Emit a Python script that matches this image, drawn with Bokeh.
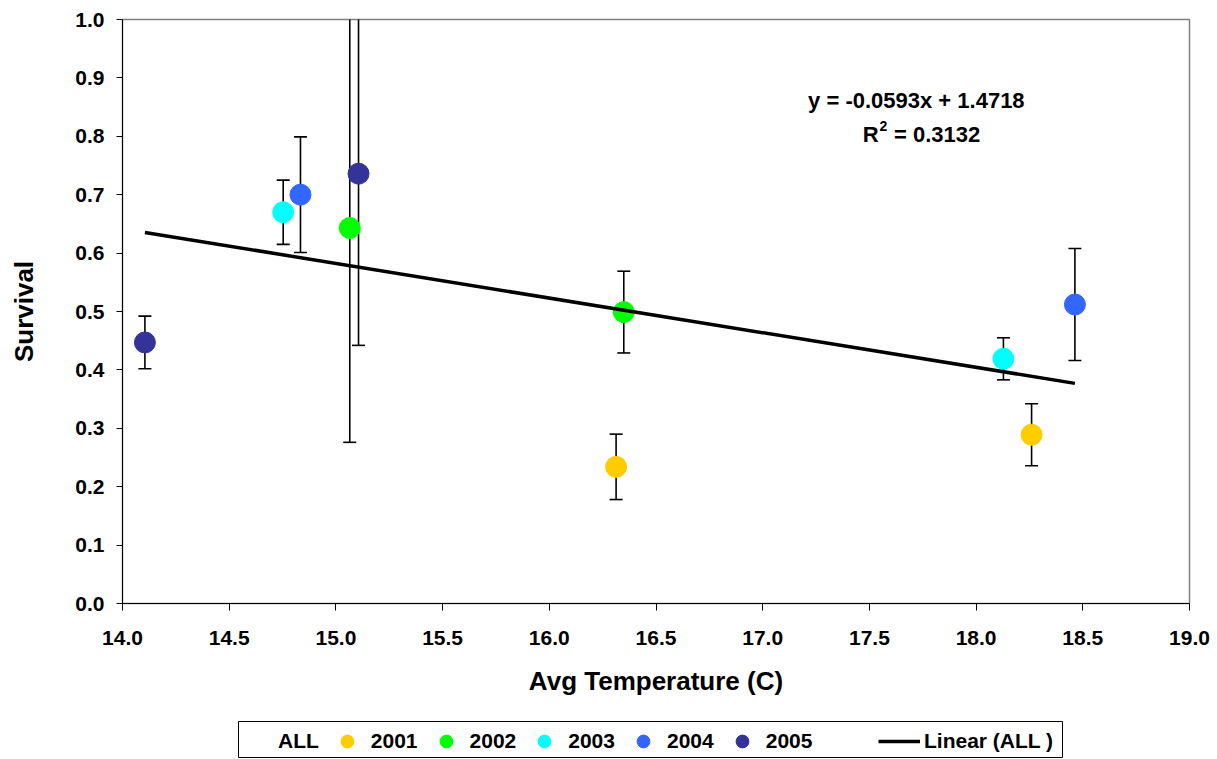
from bokeh.plotting import figure
from bokeh.layouts import column
from bokeh.models import (ColumnDataSource, Range1d, FixedTicker, NumeralTickFormatter,
                          Whisker, TeeHead, Legend, LegendItem, Label, BoxAnnotation)
from bokeh.embed import file_html
from bokeh.resources import INLINE

# ---------------- data ----------------
years = ["2001", "2002", "2003", "2004", "2005"]
colors = ["#FFCC00", "#00FF00", "#00FFFF", "#3366FF", "#333399"]

temp_2001 = [16.313, 18.260]
surv_2001 = [0.234, 0.289]
err_2001 = [0.056, 0.053]

temp_2002 = [15.065, 16.349]
surv_2002 = [0.643, 0.499]
err_2002 = [0.367, 0.070]

temp_2003 = [14.753, 18.128]
surv_2003 = [0.670, 0.419]
err_2003 = [0.055, 0.036]

temp_2004 = [14.834, 18.463]
surv_2004 = [0.700, 0.512]
err_2004 = [0.099, 0.096]

temp_2005 = [14.105, 15.106]
surv_2005 = [0.447, 0.736]
err_2005 = [0.045, 0.294]

trend_slope = -0.0593
trend_intercept = 1.4718
equation_text = "y = -0.0593x + 1.4718"
r2_label = "R"
r2_sup = "2"
r2_value = "= 0.3132"

x_ticks = [14.0, 14.5, 15.0, 15.5, 16.0, 16.5, 17.0, 17.5, 18.0, 18.5, 19.0]
y_ticks = [0.0, 0.1, 0.2, 0.3, 0.4, 0.5, 0.6, 0.7, 0.8, 0.9, 1.0]

temps = [temp_2001, temp_2002, temp_2003, temp_2004, temp_2005]
survs = [surv_2001, surv_2002, surv_2003, surv_2004, surv_2005]
errs = [err_2001, err_2002, err_2003, err_2004, err_2005]

FONT = "Liberation Sans"

p = figure(width=1215, height=716, output_backend="svg", toolbar_location=None,
           x_range=Range1d(14, 19), y_range=Range1d(0, 1),
           min_border_left=122, min_border_right=26, min_border_top=19,
           min_border_bottom=113)
p.xgrid.visible = False
p.ygrid.visible = False
p.outline_line_color = "#808080"
p.outline_line_width = 1.5
p.background_fill_color = "white"
p.border_fill_color = "white"

for ax in (p.xaxis[0], p.yaxis[0]):
    ax.axis_line_color = "black"
    ax.axis_line_width = 1
    ax.major_tick_line_color = "black"
    ax.minor_tick_line_color = None
    ax.major_tick_in = 0
    ax.major_label_text_font = FONT
    ax.major_label_text_font_style = "bold"
    ax.major_label_text_font_size = "21px"
    ax.major_label_text_color = "black"
    ax.axis_label_text_font = FONT
    ax.axis_label_text_font_style = "bold"
    ax.axis_label_text_font_size = "26px"
    ax.axis_label_text_color = "black"
    ax.formatter = NumeralTickFormatter(format="0.0")

p.xaxis.ticker = FixedTicker(ticks=x_ticks)
p.yaxis.ticker = FixedTicker(ticks=y_ticks)
p.xaxis.axis_label = "Avg Temperature (C)"
p.yaxis.axis_label = "Survival"
p.xaxis.major_tick_out = 7
p.yaxis.major_tick_out = 6
p.xaxis.major_label_standoff = 20
p.yaxis.major_label_standoff = 12
p.xaxis.axis_label_standoff = 18
p.yaxis.axis_label_standoff = 33

# ALL series (invisible markers; error bars)
all_x = sum(temps, [])
all_y = sum(survs, [])
all_e = sum(errs, [])
all_src = ColumnDataSource(dict(x=all_x, y=all_y,
                                lo=[v - e for v, e in zip(all_y, all_e)],
                                hi=[v + e for v, e in zip(all_y, all_e)]))
p.scatter("x", "y", source=all_src, size=10, fill_alpha=0, line_alpha=0)

wh = Whisker(source=all_src, base="x", upper="hi", lower="lo",
             line_color="black", line_width=1.6,
             upper_head=TeeHead(size=13, line_color="black", line_width=1.6),
             lower_head=TeeHead(size=13, line_color="black", line_width=1.6))
p.add_layout(wh)

year_srcs = []
for yr, c, tx, sv in zip(years, colors, temps, survs):
    src = ColumnDataSource(dict(x=tx, y=sv))
    year_srcs.append(src)
    p.scatter("x", "y", source=src, size=21, fill_color=c, line_color=c)

tx0, tx1 = min(all_x), max(all_x)
line_src = ColumnDataSource(dict(x=[tx0, tx1],
                                 y=[trend_slope * tx0 + trend_intercept,
                                    trend_slope * tx1 + trend_intercept]))
p.line("x", "y", source=line_src, line_color="black", line_width=3.5)

lbl_kw = dict(text_font=FONT, text_font_style="bold", text_color="black")
p.add_layout(Label(x=17.72, y=0.861, text=equation_text, text_align="center",
                   text_baseline="middle", text_font_size="22px", **lbl_kw))
p.add_layout(Label(x=17.543, y=0.803, text=r2_label, text_align="right",
                   text_baseline="middle", text_font_size="22px", **lbl_kw))
p.add_layout(Label(x=17.543, y=0.803, y_offset=9, x_offset=1, text=r2_sup,
                   text_align="left", text_baseline="middle",
                   text_font_size="14px", **lbl_kw))
p.add_layout(Label(x=17.615, y=0.803, text=r2_value, text_align="left",
                   text_baseline="middle", text_font_size="22px", **lbl_kw))

# ---------------- legend strip (same sources, ranges keep marks off-view) ----------------
lg = figure(width=1215, height=43, output_backend="svg", toolbar_location=None,
            x_range=Range1d(0, 1), y_range=Range1d(0, 1),
            x_axis_type=None, y_axis_type=None, min_border=0)
lg.xgrid.visible = False
lg.ygrid.visible = False
lg.outline_line_color = None
lg.border_fill_color = "white"

lg.add_layout(BoxAnnotation(left=116, right=940, bottom=2, top=38,
                            left_units="screen", right_units="screen",
                            bottom_units="screen", top_units="screen",
                            fill_alpha=0, line_color="black", line_width=1,
                            line_alpha=1))

items = [LegendItem(label="ALL", renderers=[
    lg.scatter("x", "y", source=all_src, fill_alpha=0, line_alpha=0)])]
for yr, c, src in zip(years, colors, year_srcs):
    r = lg.scatter("x", "y", source=src, fill_color=c, line_color=c)
    items.append(LegendItem(label=yr, renderers=[r]))
r_l = lg.line("x", "y", source=line_src, line_color="black", line_width=3.5)

common = dict(orientation="horizontal", border_line_color=None,
              background_fill_alpha=0,
              label_text_font=FONT, label_text_font_style="bold",
              label_text_font_size="21px", label_text_color="black",
              glyph_height=32, padding=2, margin=0)
legend_a = Legend(items=items, location=(116, 2), glyph_width=32,
                  label_standoff=8, spacing=12, **common)
legend_b = Legend(items=[LegendItem(label="Linear (ALL )", renderers=[r_l])],
                  location=(756, 2), glyph_width=42, label_standoff=4, **common)
lg.add_layout(legend_a)
lg.add_layout(legend_b)

layout = column(p, lg, spacing=0)
open("out.html", "w").write(file_html(layout, INLINE))
